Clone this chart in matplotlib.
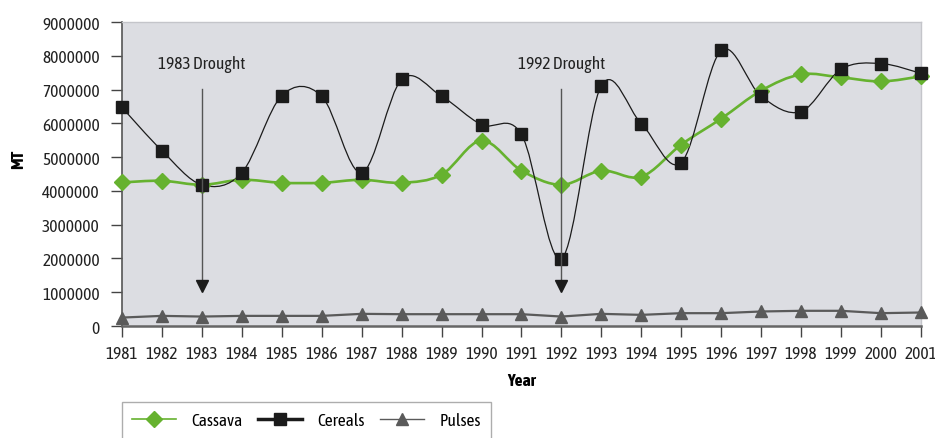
import numpy as np
import matplotlib.pyplot as plt
from matplotlib.path import Path
from matplotlib.patches import PathPatch
from matplotlib.lines import Line2D

plt.rcParams['font.family'] = ['Asap Condensed', 'DejaVu Sans']

# Data (MT)
years = list(range(1981, 2002))
cassava = [4250000, 4300000, 4180000, 4330000, 4240000, 4240000, 4330000, 4240000, 4480000, 5490000,
           4600000, 4180000, 4600000, 4420000, 5370000, 6140000, 6970000, 7450000, 7360000, 7240000, 7390000]
cereals = [6470000, 5190000, 4180000, 4540000, 6820000, 6800000, 4540000, 7300000, 6800000, 5960000,
           5670000, 1990000, 7120000, 5990000, 4840000, 8160000, 6800000, 6350000, 7600000, 7770000, 7480000]
pulses = [250000, 300000, 280000, 300000, 300000, 300000, 360000, 350000, 350000, 350000,
          350000, 280000, 360000, 330000, 380000, 380000, 430000, 450000, 450000, 380000, 400000]

droughts = [1983, 1992]
drought_labels = ['1983 Drought', '1992 Drought']

GREEN = '#66b22f'
BLACK = '#1b1b1b'
GREY = '#5a5a5a'

# Smoothed line through the points (Excel style Bezier curves)
def smooth_path(x, y):
  n = len(x)
  verts = [(x[0], y[0])]
  codes = [Path.MOVETO]
  for i in range(n - 1):
    a = max(i - 1, 0)
    b = min(i + 2, n - 1)
    c1 = (x[i] + (x[i + 1] - x[a]) / 6, y[i] + (y[i + 1] - y[a]) / 6)
    c2 = (x[i + 1] - (x[b] - x[i]) / 6, y[i + 1] - (y[b] - y[i]) / 6)
    verts += [c1, c2, (x[i + 1], y[i + 1])]
    codes += [Path.CURVE4] * 3
  return Path(verts, codes)

fig = plt.figure(figsize=(9.35, 4.39), dpi=100)
ax = fig.add_axes([0.1305, 0.2551, 0.8545, 0.6925])
ax.set_facecolor('#dcdde2')

# Lines
ax.add_patch(PathPatch(smooth_path(years, cassava), fill=False, edgecolor=GREEN, lw=1.9, zorder=3))
ax.add_patch(PathPatch(smooth_path(years, cereals), fill=False, edgecolor=BLACK, lw=0.9, zorder=4))
ax.plot(years, pulses, color=GREY, lw=1.6, zorder=3, clip_on=False)

# Markers
ax.plot(years, cassava, ls='none', marker='D', ms=8, color=GREEN, zorder=5, clip_on=False)
ax.plot(years, cereals, ls='none', marker='s', ms=8.5, color=BLACK, zorder=6, clip_on=False)
ax.plot(years, pulses, ls='none', marker='^', ms=9, color=GREY, zorder=5, clip_on=False)

# Drought arrows
for yr, lab in zip(droughts, drought_labels):
  ax.plot([yr, yr], [7030000, 1300000], color='#555555', lw=1.0, zorder=7)
  ax.plot(yr, 1180000, marker='v', ms=9, color=BLACK, zorder=7)
  ax.text(yr, 7780000, lab, ha='center', va='center', fontsize=12.5, color='#222222')

ax.set_xlim(1981, 2001)
ax.set_ylim(0, 9000000)
ax.set_xticks(years)
ax.set_yticks(np.arange(0, 9000001, 1000000))
ax.set_yticklabels([f'{int(v)}' for v in np.arange(0, 9000001, 1000000)])
ax.tick_params(axis='both', labelsize=12.5, colors='#222222', length=8, width=1, direction='out')
ax.tick_params(axis='x', pad=6, color='#444444')
ax.tick_params(axis='y', pad=8, color='#444444')

for side in ['top', 'right']:
  ax.spines[side].set_color('#c4c5ca')
  ax.spines[side].set_linewidth(1)
ax.spines['left'].set_color('#555555')
ax.spines['left'].set_linewidth(1.2)
ax.spines['bottom'].set_color('#666666')
ax.spines['bottom'].set_linewidth(1.8)

ax.set_ylabel('MT', fontsize=12.5, fontweight='bold')
ax.yaxis.set_label_coords(-0.12, 0.55)
ax.set_xlabel('Year', fontsize=12.5, fontweight='bold')
ax.xaxis.set_label_coords(0.5, -0.152)

# Legend below the plot
handles = [Line2D([], [], color=GREEN, lw=1.2, marker='D', ms=8),
           Line2D([], [], color=BLACK, lw=2.5, marker='s', ms=8),
           Line2D([], [], color=GREY, lw=1.0, marker='^', ms=8)]
leg = fig.legend(handles, ['Cassava', 'Cereals', 'Pulses'], ncol=3, loc='upper left',
                 bbox_to_anchor=(0.1305, 0.082), fontsize=12.5, frameon=True, fancybox=False,
                 edgecolor='#999999', handlelength=2.5, handletextpad=0.9, columnspacing=0.9,
                 borderpad=0.6, borderaxespad=0)
leg.get_frame().set_linewidth(1)

fig.savefig('out.png', dpi=100)
